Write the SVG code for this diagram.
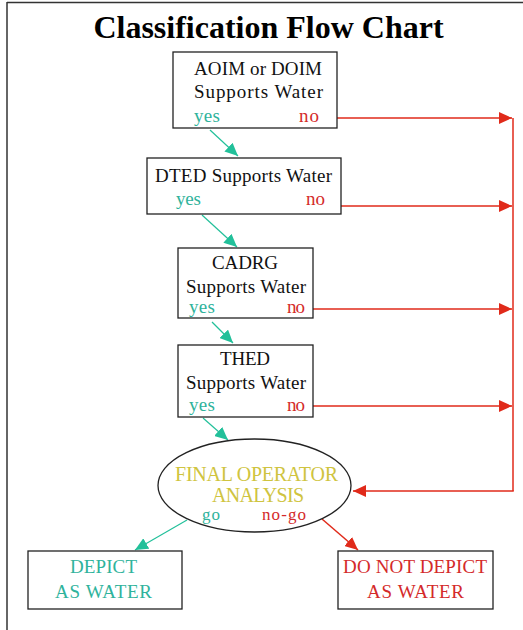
<svg xmlns="http://www.w3.org/2000/svg" width="523" height="630" viewBox="0 0 523 630">
<style>
.box{fill:#fff;stroke:#222;stroke-width:1.3}
.t{font-family:"Liberation Serif","Times New Roman",serif;font-size:19px}
.e{font-size:20px}
.s{font-size:17px}
.blk{fill:#111}
.tl{fill:#2fb39c}
.rd{fill:#d42a2a}
.yl{fill:#cfc440}
.title{font-family:"Liberation Serif","Times New Roman",serif;font-size:32px;font-weight:bold;fill:#000}
.ra{stroke:#e02a1a;stroke-width:1.5;fill:none}
.ta{stroke:#22c09a;stroke-width:1.2;fill:none}
</style>
<defs>
<marker id="mr" markerUnits="userSpaceOnUse" markerWidth="14" markerHeight="12" refX="13" refY="6" orient="auto"><path d="M0,0 L13,6 L0,12 z" fill="#e02a1a"/></marker>
<marker id="mt" markerUnits="userSpaceOnUse" markerWidth="14" markerHeight="12" refX="13" refY="6" orient="auto"><path d="M0,0 L13,6 L0,12 z" fill="#22c09a"/></marker>
</defs>
<rect width="523" height="630" fill="#fff"/>
<g id="frame">
<line x1="7" y1="2.5" x2="523" y2="2.5" stroke="#333" stroke-width="1.5"/>
<line x1="7" y1="2" x2="7" y2="630" stroke="#333" stroke-width="1.5"/>
</g>
<text class="title" x="268.5" y="38" text-anchor="middle">Classification Flow Chart</text>
<g id="connectors">
<line class="ra" x1="337" y1="118" x2="512" y2="118" marker-end="url(#mr)"/>
<line class="ra" x1="341" y1="206" x2="512" y2="206" marker-end="url(#mr)"/>
<line class="ra" x1="313" y1="309" x2="512" y2="309" marker-end="url(#mr)"/>
<line class="ra" x1="313" y1="406" x2="512" y2="406" marker-end="url(#mr)"/>
<line class="ra" x1="513" y1="118" x2="513" y2="491"/>
<line class="ra" x1="513.75" y1="491" x2="353" y2="491" marker-end="url(#mr)"/>
<line class="ta" x1="210" y1="130" x2="238" y2="156" marker-end="url(#mt)"/>
<line class="ta" x1="202" y1="215" x2="237" y2="247" marker-end="url(#mt)"/>
<line class="ta" x1="212" y1="322" x2="233" y2="343" marker-end="url(#mt)"/>
<line class="ta" x1="203" y1="418" x2="228" y2="440" marker-end="url(#mt)"/>
<line class="ta" x1="187" y1="520" x2="135" y2="550" marker-end="url(#mt)"/>
<line class="ra" x1="322" y1="519" x2="358" y2="550" marker-end="url(#mr)"/>
</g>
<g id="aoim">
<rect class="box" x="173" y="52" width="164" height="76"/>
<text class="t blk" x="194" y="75" textLength="128" lengthAdjust="spacing">AOIM or DOIM</text>
<text class="t blk" x="194" y="98" textLength="129" lengthAdjust="spacing">Supports Water</text>
<text class="t tl" x="194" y="122" textLength="26" lengthAdjust="spacing">yes</text>
<text class="t rd" x="299" y="122" textLength="20" lengthAdjust="spacing">no</text>
</g>
<g id="dted">
<rect class="box" x="147" y="158" width="194" height="56"/>
<text class="t blk" x="155" y="182" textLength="177" lengthAdjust="spacing">DTED Supports Water</text>
<text class="t tl" x="176" y="205" textLength="25" lengthAdjust="spacing">yes</text>
<text class="t rd" x="306" y="205" textLength="19" lengthAdjust="spacing">no</text>
</g>
<g id="cadrg">
<rect class="box" x="178" y="248" width="135" height="70"/>
<text class="t blk" x="212" y="269" textLength="66" lengthAdjust="spacing">CADRG</text>
<text class="t blk" x="186" y="293" textLength="120" lengthAdjust="spacing">Supports Water</text>
<text class="t tl" x="189" y="313" textLength="26" lengthAdjust="spacing">yes</text>
<text class="t rd" x="287" y="313" textLength="18" lengthAdjust="spacing">no</text>
</g>
<g id="thed">
<rect class="box" x="178" y="345" width="135" height="72"/>
<text class="t blk" x="220" y="365" textLength="50" lengthAdjust="spacing">THED</text>
<text class="t blk" x="186" y="389" textLength="120" lengthAdjust="spacing">Supports Water</text>
<text class="t tl" x="189" y="411" textLength="26" lengthAdjust="spacing">yes</text>
<text class="t rd" x="287" y="411" textLength="18" lengthAdjust="spacing">no</text>
</g>
<g id="final">
<ellipse cx="254.5" cy="485.5" rx="96.5" ry="46.5" fill="#fff" stroke="#222" stroke-width="1.3"/>
<text class="t e yl" x="175" y="481" textLength="163" lengthAdjust="spacing">FINAL OPERATOR</text>
<text class="t e yl" x="212" y="502" textLength="92" lengthAdjust="spacing">ANALYSIS</text>
<text class="t s tl" x="202" y="520" textLength="18" lengthAdjust="spacing">go</text>
<text class="t s rd" x="262" y="520" textLength="44" lengthAdjust="spacing">no-go</text>
</g>
<g id="depict">
<rect class="box" x="28" y="551" width="154" height="58"/>
<text class="t tl" x="70" y="573" textLength="67" lengthAdjust="spacing">DEPICT</text>
<text class="t tl" x="55" y="598" textLength="97" lengthAdjust="spacing">AS WATER</text>
</g>
<g id="donot">
<rect class="box" x="338" y="551" width="155" height="58"/>
<text class="t rd" x="343" y="573" textLength="144" lengthAdjust="spacing">DO NOT DEPICT</text>
<text class="t rd" x="367" y="598" textLength="97" lengthAdjust="spacing">AS WATER</text>
</g>
</svg>
